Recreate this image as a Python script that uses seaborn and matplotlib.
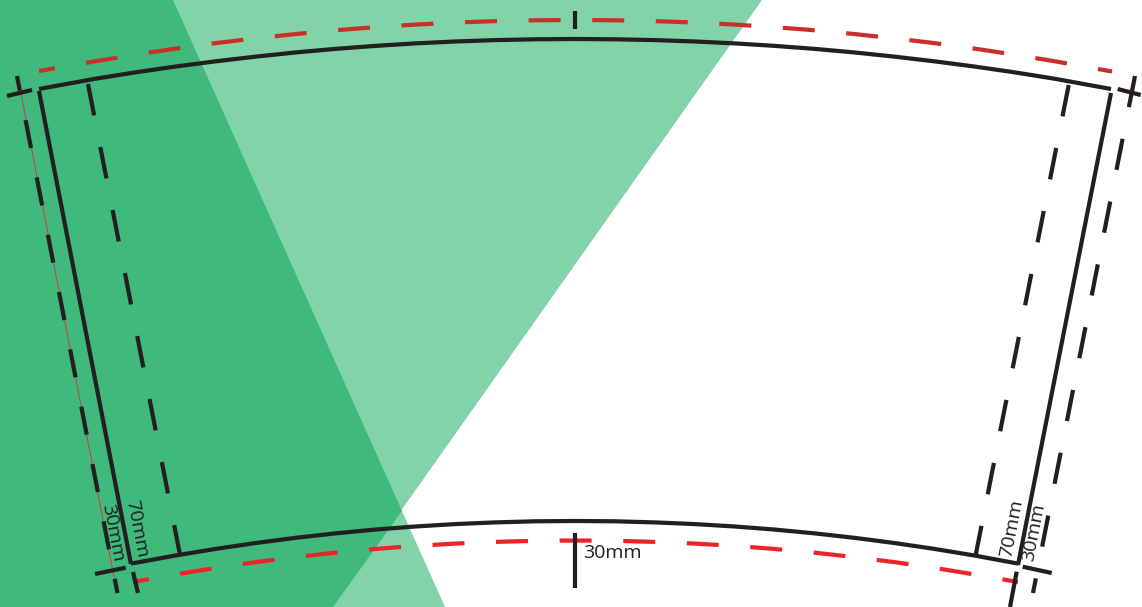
#import modules
import matplotlib
matplotlib.use("Agg")
import matplotlib.pyplot as plt
import seaborn as sns

sns.set_theme(style="white")
plt.rcParams['font.family'] = ['Open Sans', 'DejaVu Sans']
plt.rcParams['lines.scale_dashes'] = False
plt.rcParams['lines.solid_capstyle'] = 'butt'
plt.rcParams['lines.dash_capstyle'] = 'butt'
plt.rcParams['lines.solid_joinstyle'] = 'round'

#all values, in image pixels
#green shapes
wedge_a_x = [0, 173, 445, 0]
wedge_a_y = [0, 0, 607, 607]
wedge_b_x = [0, 762, 333, 0]
wedge_b_y = [0, 0, 607, 607]
overlap_x = [0, 173, 402, 333, 0]
overlap_y = [0, 0, 511, 607, 607]

#solid outline of the cup wrap
top_arc_x = [39, 95, 135, 175, 215, 255, 295, 335, 375, 415, 455, 495, 535, 575,
             615, 655, 695, 735, 775, 815, 855, 895, 935, 975, 1015, 1055, 1111]
top_arc_y = [89, 78.8, 72.4, 66.6, 61.4, 56.7, 52.5, 48.9, 45.9, 43.4, 41.5, 40.1, 39.3, 39,
             39.3, 40.1, 41.5, 43.4, 45.9, 48.9, 52.5, 56.7, 61.4, 66.6, 72.4, 78.8, 89]
bottom_arc_x = [131, 175, 215, 255, 295, 335, 375, 415, 455, 495, 535, 575,
                615, 655, 695, 735, 775, 815, 855, 895, 935, 975, 1018]
bottom_arc_y = [563.6, 555.6, 549, 543.1, 537.9, 533.4, 529.6, 526.5, 524.1, 522.4, 521.3, 521,
                521.3, 522.4, 524.1, 526.5, 529.6, 533.4, 537.9, 543.1, 549, 555.6, 563.6]
left_edge_x = [39, 131]
left_edge_y = [91, 564]
right_edge_x = [1111, 1018]
right_edge_y = [93, 565]

#red dashed arcs
red_top_x = [39, 95, 135, 175, 215, 255, 295, 335, 375, 415, 455, 495, 535, 575,
             615, 655, 695, 735, 775, 815, 855, 895, 935, 975, 1015, 1055, 1112]
red_top_y = [71, 61.3, 54.7, 48.7, 43.2, 38.4, 34.1, 30.3, 27.2, 24.6, 22.6, 21.1, 20.3, 20,
             20.3, 21.1, 22.6, 24.6, 27.2, 30.3, 34.1, 38.4, 43.2, 48.7, 54.7, 61.3, 71.5]
red_bottom_x = [133, 175, 215, 255, 295, 335, 375, 415, 455, 495, 535, 575,
                615, 655, 695, 735, 775, 815, 855, 895, 935, 975, 1018]
red_bottom_y = [582, 574.5, 568, 562.2, 557.2, 552.7, 549, 545.9, 543.6, 541.9, 540.8, 540.5,
                540.8, 541.9, 543.6, 545.9, 549, 552.7, 557.2, 562.2, 568, 574.5, 582]

#black dashed guides
left_inner_x = [88, 180]
left_inner_y = [84, 555]
left_outer_x = [17, 117.5]
left_outer_y = [76, 593]
right_inner_x = [1068.7, 975.7]
right_inner_y = [85, 555]
right_outer_x = [1135, 1033]
right_outer_y = [76, 593]
thin_red_x = [20.7, 114]
thin_red_y = [92, 577]

#short ticks
tick_x = [[7, 32], [95, 125.7], [133, 138], [1117.7, 1140.7], [1022.7, 1051.7],
          [1016.7, 1010], [574.5, 574.5], [574.5, 574.5]]
tick_y = [[96, 90], [574, 567.7], [572, 593], [89, 95], [566.7, 573],
          [571.7, 607], [11, 29], [533, 587.5]]

#labels
labels = ["30mm", "70mm", "30mm", "70mm", "30mm"]
label_x = [612.5, 136.5, 113, 1012, 1034]
label_y = [553, 529, 533, 528, 532]
label_rot = [0, -79, -79, 79, 79]

DARK = "#231f20"
GREEN_DARK = "#3fb97c"
GREEN_LIGHT = "#82d4a8"
RED_TOP = "#c9302a"
RED_BOTTOM = "#ee2329"
PX = 72 / 100  # one pixel in points at dpi 100


def dash(on, off, start=0):
    return (start * PX, (on * PX, off * PX))


def draw(ax, x, y, color, width=4.2, style="-"):
    sns.lineplot(x=x, y=y, sort=False, estimator=None, errorbar=None, ax=ax,
                 color=color, linewidth=width * PX, linestyle=style, legend=False)


fig = plt.figure(figsize=(11.42, 6.07), dpi=100)
ax = fig.add_axes([0, 0, 1, 1])

ax.fill(wedge_a_x, wedge_a_y, color=GREEN_LIGHT, lw=0)
ax.fill(wedge_b_x, wedge_b_y, color=GREEN_LIGHT, lw=0)
ax.fill(overlap_x, overlap_y, color=GREEN_DARK, lw=0)

#red first so the black sits on top
draw(ax, thin_red_x, thin_red_y, "#e0302c", width=0.9)
draw(ax, red_top_x, red_top_y, RED_TOP, style=dash(32, 31.6, 16))
draw(ax, red_bottom_x, red_bottom_y, RED_BOTTOM, style=dash(32, 31.6, 16))

draw(ax, top_arc_x, top_arc_y, DARK)
draw(ax, bottom_arc_x, bottom_arc_y, DARK)
draw(ax, left_edge_x, left_edge_y, DARK)
draw(ax, right_edge_x, right_edge_y, DARK)

draw(ax, left_inner_x, left_inner_y, DARK, style=dash(32, 32.2))
draw(ax, left_outer_x, left_outer_y, DARK, style=dash(28.5, 29.9, 13.5))
draw(ax, right_inner_x, right_inner_y, DARK, style=dash(32, 32.2))
draw(ax, right_outer_x, right_outer_y, DARK, style=dash(31.7, 32.3))

for xs, ys in zip(tick_x, tick_y):
    draw(ax, xs, ys, DARK)

for text, x, y, rot in zip(labels, label_x, label_y, label_rot):
    ax.text(x, y, text, color=DARK, fontsize=14, rotation=rot,
            rotation_mode="anchor", ha="center", va="center")

ax.set_xlim(0, 1142)
ax.set_ylim(607, 0)
ax.axis("off")

fig.savefig("out.png", dpi=100)
plt.close(fig)
